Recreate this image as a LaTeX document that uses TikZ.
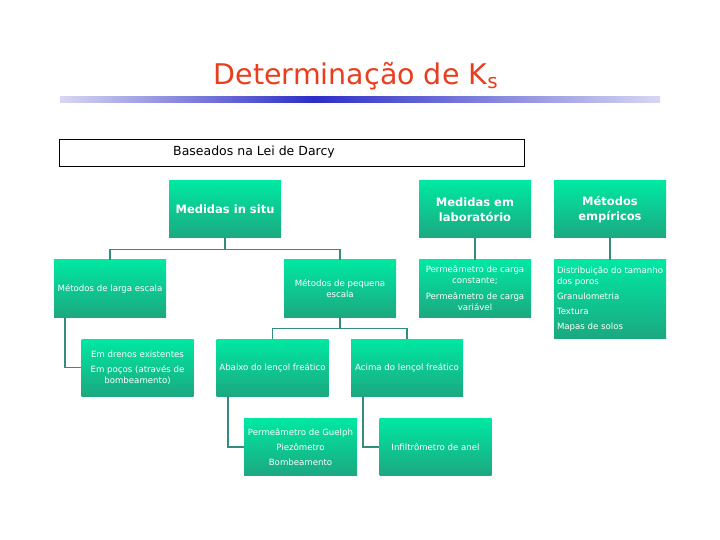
\documentclass[tikz,border=0pt]{standalone}
\usepackage{fontspec}
\setmainfont{DejaVu Sans}
\definecolor{boxtop}{RGB}{0,232,162}
\definecolor{boxbot}{RGB}{28,168,128}
\definecolor{linkc}{RGB}{52,140,128}
\definecolor{titlec}{RGB}{232,62,30}
\definecolor{barlight}{RGB}{215,215,242}
\definecolor{bardark}{RGB}{45,45,200}
\tikzset{
  gbox/.style={draw=none, top color=boxtop, bottom color=boxbot, minimum width=112bp,
    minimum height=57bp, inner sep=1.5bp, text=white, align=center,
    font=\fontsize{8.6bp}{11bp}\selectfont},
  hbox/.style={gbox, font=\bfseries\fontsize{11.5bp}{15bp}\selectfont},
  link/.style={draw=linkc, line width=1.3bp}
}
\begin{document}
\begin{tikzpicture}[x=1bp,y=-1bp]
\useasboundingbox (0,0) rectangle (720,540);
% title
\node[text=titlec, font=\fontsize{28.5bp}{32bp}\selectfont, anchor=base] (title) at (356,85) {Determinação de K\textsubscript{s}};
\shade[left color=barlight, right color=bardark] (60,97) rectangle (313,103);
\shade[left color=bardark, right color=barlight] (313,97) rectangle (660,103);
% Darcy
\node[draw=black, line width=0.8bp, minimum width=465bp, minimum height=27bp, inner sep=0pt] (darcy) at (291.5,152.5) {};
\node[font=\fontsize{12.5bp}{14bp}\selectfont, inner sep=0pt] (darcytext) at (254,152.5) {Baseados na Lei de Darcy};
% level 1
\node[hbox] (insitu) at (225,209.5) {Medidas in situ};
\node[hbox] (lab) at (475,209.5) {Medidas em\\laboratório};
\node[hbox] (emp) at (610,209.5) {Métodos\\empíricos};
% level 2
\node[gbox] (larga) at (110,288.5) {Métodos de larga escala};
\node[gbox] (pequena) at (340,288.5) {Métodos de pequena\\escala};
\node[gbox] (perm) at (475,288.5) {Permeâmetro de carga\\constante;\\[5bp]Permeâmetro de carga\\variável};
\node[gbox, minimum height=78bp, align=left] (emplist) at (610,299) {Distribuição do tamanho\\dos poros\\[4bp]Granulometria\\[4bp]Textura\\[4bp]Mapas de solos};
% level 3
\node[gbox] (drenos) at (137.5,367.5) {Em drenos existentes\\[4bp]Em poços (através de\\bombeamento)};
\node[gbox] (abaixo) at (272.5,367.5) {Abaixo do lençol freático};
\node[gbox] (acima) at (407,367.5) {Acima do lençol freático};
% level 4
\node[gbox, minimum width=113bp] (guelph) at (300.5,447) {Permeâmetro de Guelph\\[4bp]Piezômetro\\[4bp]Bombeamento};
\node[gbox] (infil) at (435.5,447) {Infiltrômetro de anel};
% connectors
\draw[link] (insitu.south) -- ++(0,11.5) -| (larga.north);
\draw[link] (insitu.south) -- ++(0,11.5) -| (pequena.north);
\draw[link] (lab.south) -- (perm.north);
\draw[link] (emp.south) -- (emplist.north);
\draw[link] (pequena.south) -- ++(0,11) -| (abaixo.north);
\draw[link] (pequena.south) -- ++(0,11) -| (acima.north);
\draw[link] ([xshift=-45bp]larga.south) |- (drenos.west);
\draw[link] ([xshift=-44.5bp]abaixo.south) |- (guelph.west);
\draw[link] ([xshift=-44bp]acima.south) |- (infil.west);
\end{tikzpicture}
\end{document}
